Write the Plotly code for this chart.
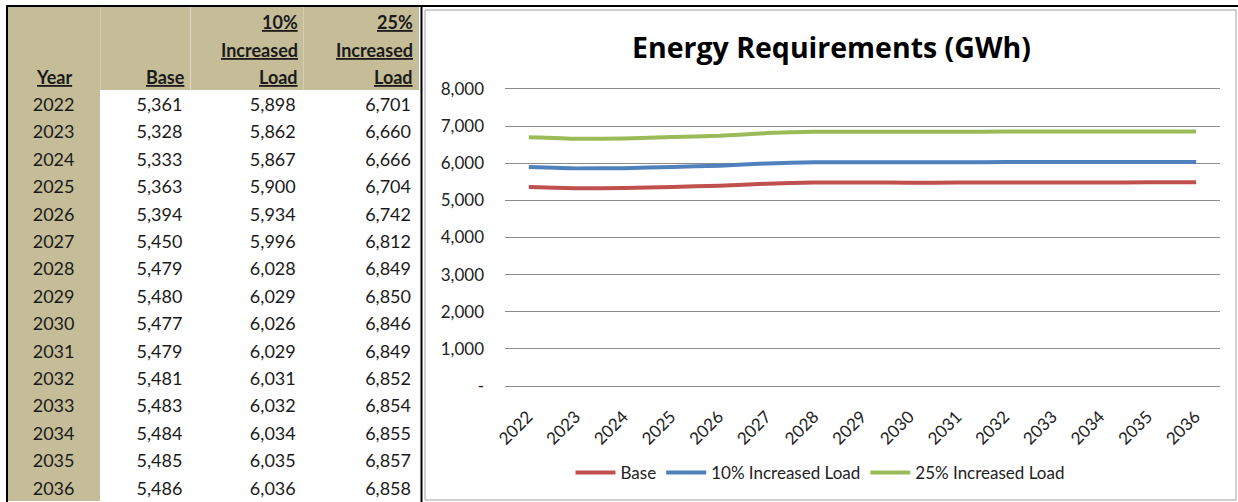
import plotly.graph_objects as go

years = [2022, 2023, 2024, 2025, 2026, 2027, 2028, 2029, 2030, 2031, 2032, 2033, 2034, 2035, 2036]
base = [5361, 5328, 5333, 5363, 5394, 5450, 5479, 5480, 5477, 5479, 5481, 5483, 5484, 5485, 5486]
inc10 = [5898, 5862, 5867, 5900, 5934, 5996, 6028, 6029, 6026, 6029, 6031, 6032, 6034, 6035, 6036]
inc25 = [6701, 6660, 6666, 6704, 6742, 6812, 6849, 6850, 6846, 6849, 6852, 6854, 6855, 6857, 6858]
series_names = ["Base", "10% Increased Load", "25% Increased Load"]
series_colors = ["#c0504d", "#4f81bd", "#9bbb59"]
ytick_vals = [0, 1000, 2000, 3000, 4000, 5000, 6000, 7000, 8000]
ytick_text = ["-", "1,000", "2,000", "3,000", "4,000", "5,000", "6,000", "7,000", "8,000"]
hdr = [["", "", "Year"], ["", "", "Base"], ["10%", "Increased", "Load"], ["25%", "Increased", "Load"]]

W, H = 1238, 502
TAN = "#c4bd97"
FONT = "Lato"
TXT = 18

# table geometry (px)
TBL_LEFT, TBL_TOP = 7, 7
COLW = [93, 90, 113, 115]
HDR_H = 82.5
ROW_H = 27.4
ALIGN = ["center", "right", "right", "right"]

# y axis: 0 at 386px, 8000 at 89px; pad the range so edge gridlines are drawn
Y0_PX, Y8K_PX, YPAD = 386, 89, 120
PX_PER_UNIT = (Y0_PX - Y8K_PX) / 8000

cols = [
    [str(y) for y in years],
    [f"{v:,}" for v in base],
    [f"{v:,}" for v in inc10],
    [f"{v:,}" for v in inc25],
]
fills = [[TAN] * len(years)] + [["white"] * len(years) for _ in range(3)]

fig = go.Figure()

fig.add_trace(go.Table(
    domain=dict(x=[TBL_LEFT / W, (TBL_LEFT + sum(COLW) + 1) / W], y=[0, 1 - TBL_TOP / H]),
    columnwidth=COLW,
    header=dict(
        values=["", "", "", ""], fill=dict(color=TAN), line=dict(color=TAN, width=0),
        align=ALIGN, font=dict(family=FONT, size=TXT, color="#1a1a1a"), height=HDR_H,
    ),
    cells=dict(
        values=cols,
        fill=dict(color=fills),
        line=dict(color=fills, width=0),
        align=ALIGN,
        font=dict(family=FONT, size=TXT, color="#1a1a1a"),
        height=ROW_H,
    ),
))

for name, vals, col in zip(series_names, [base, inc10, inc25], series_colors):
    fig.add_trace(go.Scatter(
        x=[str(y) for y in years], y=vals, name=name, mode="lines",
        line=dict(color=col, width=4, shape="spline", smoothing=0.5),
        xaxis="x", yaxis="y",
    ))

# header captions (bold, underlined), three lines per column
annotations = [dict(
    text="<b>Energy Requirements (GWh)</b>", x=831 / W, y=1 - 47 / H,
    xref="paper", yref="paper", xanchor="center", yanchor="middle",
    showarrow=False, font=dict(size=28.5, color="#000", family="Open Sans"),
)]
line_y = [22, 49.5, 77]
left = TBL_LEFT
for ci, lines in enumerate(hdr):
    right = left + COLW[ci]
    for li, s in enumerate(lines):
        if not s:
            continue
        if ALIGN[ci] == "center":
            ax, xa = (left + right) / 2, "center"
        else:
            ax, xa = right - 3, "right"
        annotations.append(dict(
            text='<b><span style="text-decoration:underline">' + s + '</span></b>',
            x=ax / W, y=1 - line_y[li] / H, xref="paper", yref="paper",
            xanchor=xa, yanchor="middle", showarrow=False,
            font=dict(family=FONT, size=TXT, color="#1a1a1a"),
        ))
    left = right

pad_px = YPAD * PX_PER_UNIT

fig.update_layout(
    width=W, height=H, autosize=False,
    margin=dict(l=0, r=0, t=0, b=0, autoexpand=False),
    paper_bgcolor="white", plot_bgcolor="white",
    font=dict(family=FONT, color="#222"),
    xaxis=dict(
        domain=[505 / W, 1220 / W], type="category", range=[-0.5, len(years) - 0.5],
        showgrid=False, showline=False, ticks="", tickangle=-45,
        tickfont=dict(size=17, color="#222"), anchor="y", automargin=False,
        ticklabelstandoff=int(round(16 - pad_px)), ticklabelshift=-1,
    ),
    yaxis=dict(
        domain=[1 - (Y0_PX + pad_px) / H, 1 - (Y8K_PX - pad_px) / H], range=[-YPAD, 8000 + YPAD],
        tickvals=ytick_vals, ticktext=ytick_text, showgrid=True,
        gridcolor="#8c8c8c", gridwidth=1, zeroline=False, showline=False,
        tickfont=dict(size=17, color="#222"), ticklabelstandoff=20, anchor="x",
        automargin=False,
    ),
    showlegend=True,
    legend=dict(
        orientation="h", x=820 / W, xanchor="center", y=1 - 473 / H, yanchor="middle",
        font=dict(size=17, color="#222"), itemwidth=40, tracegroupgap=0,
        bgcolor="rgba(0,0,0,0)",
    ),
    annotations=annotations,
    shapes=[
        dict(type="rect", xref="paper", yref="paper", x0=425 / W, x1=1236 / W,
             y0=1 - 500 / H, y1=1 - 10 / H, line=dict(color="#a0a0a0", width=1)),
        dict(type="line", xref="paper", yref="paper", x0=6 / W, x1=1, y0=1 - 6 / H, y1=1 - 6 / H,
             line=dict(color="#000", width=2)),
        dict(type="line", xref="paper", yref="paper", x0=7 / W, x1=7 / W, y0=0, y1=1 - 6 / H,
             line=dict(color="#000", width=2)),
        dict(type="line", xref="paper", yref="paper", x0=421.5 / W, x1=421.5 / W, y0=0, y1=1 - 6 / H,
             line=dict(color="#000", width=2)),
    ],
)

fig.write_html(
    "out.html",
    config={"displayModeBar": False},
    post_script="document.body.style.margin='0';document.body.style.overflow='hidden';",
)
